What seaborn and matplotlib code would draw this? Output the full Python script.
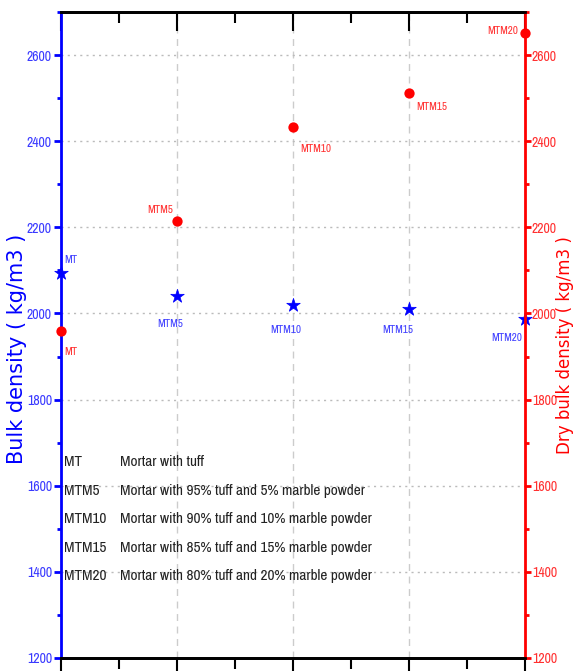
import pandas as pd
import seaborn as sns
import matplotlib.pyplot as plt
from matplotlib import font_manager
from matplotlib.ticker import MultipleLocator

samples = ["MT", "MTM5", "MTM10", "MTM15", "MTM20"]
bulk_density = [2094, 2040, 2019, 2010, 1988]
dry_bulk_density = [1960, 2214, 2433, 2512, 2652]
descriptions = [
    "Mortar with tuff",
    "Mortar with 95% tuff and 5% marble powder",
    "Mortar with 90% tuff and 10% marble powder",
    "Mortar with 85% tuff and 15% marble powder",
    "Mortar with 80% tuff and 20% marble powder",
]

df = pd.DataFrame({"Sample": samples, "pos": range(len(samples)),
                   "Bulk": bulk_density, "Dry": dry_bulk_density})

sns.set_style("white")
plt.rcParams["font.family"] = ["DejaVu Sans"]

# pick a narrow face if one is around (the original looks like Arial Narrow)
installed = {f.name for f in font_manager.fontManager.ttflist}
narrow = [n for n in ["Liberation Sans Narrow", "Arial Narrow", "Archivo Narrow",
                      "PT Sans Narrow", "Roboto Condensed", "Barlow Condensed"]
          if n in installed][:1] + ["DejaVu Sans"]

fig = plt.figure(figsize=(5.74, 6.71), dpi=100)
ax = fig.add_axes([0.1063, 0.0194, 0.8083, 0.9627])
ax2 = ax.twinx()

blue = "#0000ff"
red = "#ff0000"

sns.scatterplot(data=df, x="pos", y="Bulk", ax=ax, marker="*", s=105,
                color=blue, edgecolor=blue, linewidth=0.5, zorder=5, clip_on=False)
sns.scatterplot(data=df, x="pos", y="Dry", ax=ax2, marker="o", s=55,
                color=red, edgecolor=red, linewidth=0, zorder=5, clip_on=False)

for a in (ax, ax2):
    a.set_xlim(0, 4)
    a.set_ylim(1200, 2700)
    a.yaxis.set_major_locator(MultipleLocator(200))
    a.yaxis.set_minor_locator(MultipleLocator(100))

ax.xaxis.set_major_locator(MultipleLocator(1))
ax.xaxis.set_minor_locator(MultipleLocator(0.5))
ax.xaxis.set_ticks_position("both")
ax.tick_params(axis="x", which="both", labelbottom=False, direction="out",
               color="black", width=1.5)
ax.tick_params(axis="x", which="major", length=14)
ax.tick_params(axis="x", which="minor", length=8)
# top ticks point into the plot
for t in ax.xaxis.get_major_ticks() + ax.xaxis.get_minor_ticks():
    t.tick2line.set_marker(3)

ax.grid(axis="y", which="major", linestyle=(0, (1.5, 3)), color="#bbbbbb", linewidth=1)
ax.grid(axis="x", which="major", linestyle=(0, (5, 4)), color="#cccccc", linewidth=1)

ax.tick_params(axis="y", which="major", direction="out", length=5, width=2, pad=1.5,
               color=blue, labelcolor="#3a3aff", labelsize=10)
ax.tick_params(axis="y", which="minor", direction="out", length=3, width=2, color=blue)
ax2.tick_params(axis="y", which="major", direction="out", length=4, width=2, pad=1,
                color=red, labelcolor="#ff3030", labelsize=10)
ax2.tick_params(axis="y", which="minor", direction="out", length=3, width=2, color=red)
for lab in ax.get_yticklabels() + ax2.get_yticklabels():
    lab.set_family(narrow)

for a in (ax, ax2):
    a.spines["top"].set_color("black")
    a.spines["bottom"].set_color("black")
    a.spines["top"].set_linewidth(2)
    a.spines["bottom"].set_linewidth(2)
ax.spines["left"].set_color(blue)
ax.spines["left"].set_linewidth(2)
ax2.spines["left"].set_visible(False)
ax2.spines["right"].set_color(red)
ax2.spines["right"].set_linewidth(2)
ax.spines["right"].set_visible(False)

ax.set_xlabel("")
ax.set_ylabel("Bulk density ( kg/m3 )", color=blue, fontsize=15)
ax2.set_ylabel("Dry bulk density ( kg/m3 )", color=red, fontsize=12)
ax.yaxis.set_label_coords(-0.074, 0.478)
ax2.yaxis.set_label_coords(1.067, 0.485)

blue_off = [(2, 9, "left"), (-5, -20, "center"), (-5, -18, "center"),
            (-8, -15, "center"), (-2, -14, "right")]
red_off = [(2, -15, "left"), (-3, 8, "right"), (5, -16, "left"),
           (5, -10, "left"), (-5, 1, "right")]
for i, name in enumerate(samples):
    dx, dy, ha = blue_off[i]
    ax.annotate(name, (i, bulk_density[i]), xytext=(dx, dy), textcoords="offset points",
                ha=ha, va="center", color="#4040ff", fontsize=8, family=narrow)
    dx, dy, ha = red_off[i]
    ax2.annotate(name, (i, dry_bulk_density[i]), xytext=(dx, dy), textcoords="offset points",
                 ha=ha, va="center", color="#ff3030", fontsize=8, family=narrow)

row_y = [0.303, 0.259, 0.215, 0.171, 0.127]
for code, desc, yy in zip(samples, descriptions, row_y):
    ax.text(0.006, yy, code, transform=ax.transAxes, fontsize=11, family=narrow,
            va="center", ha="left", color="#222222")
    ax.text(0.127, yy, desc, transform=ax.transAxes, fontsize=11, family=narrow,
            va="center", ha="left", color="#222222")

fig.savefig("out.png", dpi=100)
